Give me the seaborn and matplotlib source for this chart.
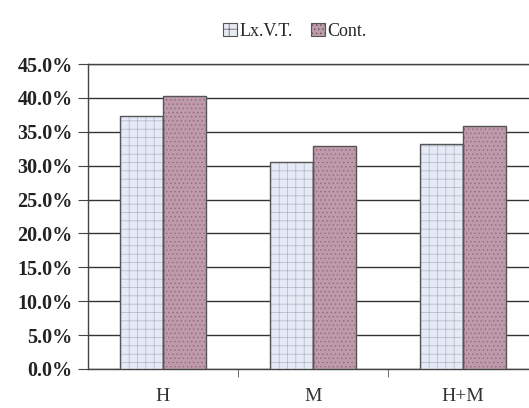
import matplotlib
matplotlib.use("Agg")
import matplotlib.pyplot as plt
import seaborn as sns
import pandas as pd
from matplotlib.patches import Rectangle
from matplotlib.ticker import FuncFormatter, MultipleLocator

categories = ["H", "M", "H+M"]
series_names = ["Lx.V.T.", "Cont."]
lxvt = [37.3, 30.6, 33.2]
cont = [40.3, 32.9, 35.9]

df = pd.DataFrame({
    "cat": categories * 2,
    "series": [series_names[0]] * 3 + [series_names[1]] * 3,
    "val": lxvt + cont,
})

sns.set_style("white")
plt.rcParams["font.family"] = ["Liberation Serif", "DejaVu Serif"]
plt.rcParams["hatch.linewidth"] = 0.5

fig = plt.figure(figsize=(5.29, 4.08), dpi=100)
ax = fig.add_axes([88 / 529, 1 - 369 / 408, (538 - 88) / 529, (369 - 64) / 408])

colors = ["#e6eaf4", "#bf9aab"]
sns.barplot(data=df, x="cat", y="val", hue="series", order=categories,
            hue_order=series_names, palette=colors, width=0.573, saturation=1,
            ax=ax, legend=False, zorder=3)

hatches = ["++", "...."]
hatch_cols = ["#aab4c8", "#8f6b7d"]
bars = list(ax.patches)
for i, p in enumerate(bars):
    s = i // 3
    p.set_hatch(hatches[s])
    p.set_edgecolor(hatch_cols[s])
    p.set_linewidth(0)
    ax.add_patch(Rectangle(p.get_xy(), p.get_width(), p.get_height(), fill=False,
                           edgecolor="#555555", linewidth=1.0, zorder=4))

ax.set_xlim(-0.5, 2.5)
ax.set_ylim(0, 45)
ax.yaxis.set_major_locator(MultipleLocator(5))
ax.yaxis.set_major_formatter(FuncFormatter(lambda v, _: f"{v:.1f}%"))
ax.grid(axis="y", color="#333333", linewidth=1.0, zorder=0)
ax.set_xlabel("")
ax.set_ylabel("")
for sp in ax.spines.values():
    sp.set_color("#444444")
    sp.set_linewidth(1.0)

ax.set_xticks([0, 1, 2])
ax.set_xticklabels(categories)
ax.set_xticks([0.5, 1.5], minor=True)
ax.tick_params(axis="x", which="major", length=0, pad=14, labelsize=14, labelcolor="#333333")
ax.tick_params(axis="x", which="minor", length=6, direction="out", color="#555555", bottom=True)
ax.tick_params(axis="y", length=7, direction="out", color="#444444", left=True, labelsize=14.5, pad=4)
for t in ax.get_yticklabels():
    t.set_fontweight("semibold")
    t.set_color("#222222")

handles = [Rectangle((0, 0), 1, 1, facecolor=colors[i], edgecolor="#555555",
                     hatch=hatches[i], linewidth=0.8) for i in range(2)]
fig.legend(handles, series_names, loc="center", bbox_to_anchor=(295 / 529, 1 - 31 / 408),
           ncol=2, frameon=False, fontsize=13, handlelength=0.75, handleheight=0.75,
           handletextpad=0.15, columnspacing=1.0)

fig.savefig("out.png", dpi=100)
